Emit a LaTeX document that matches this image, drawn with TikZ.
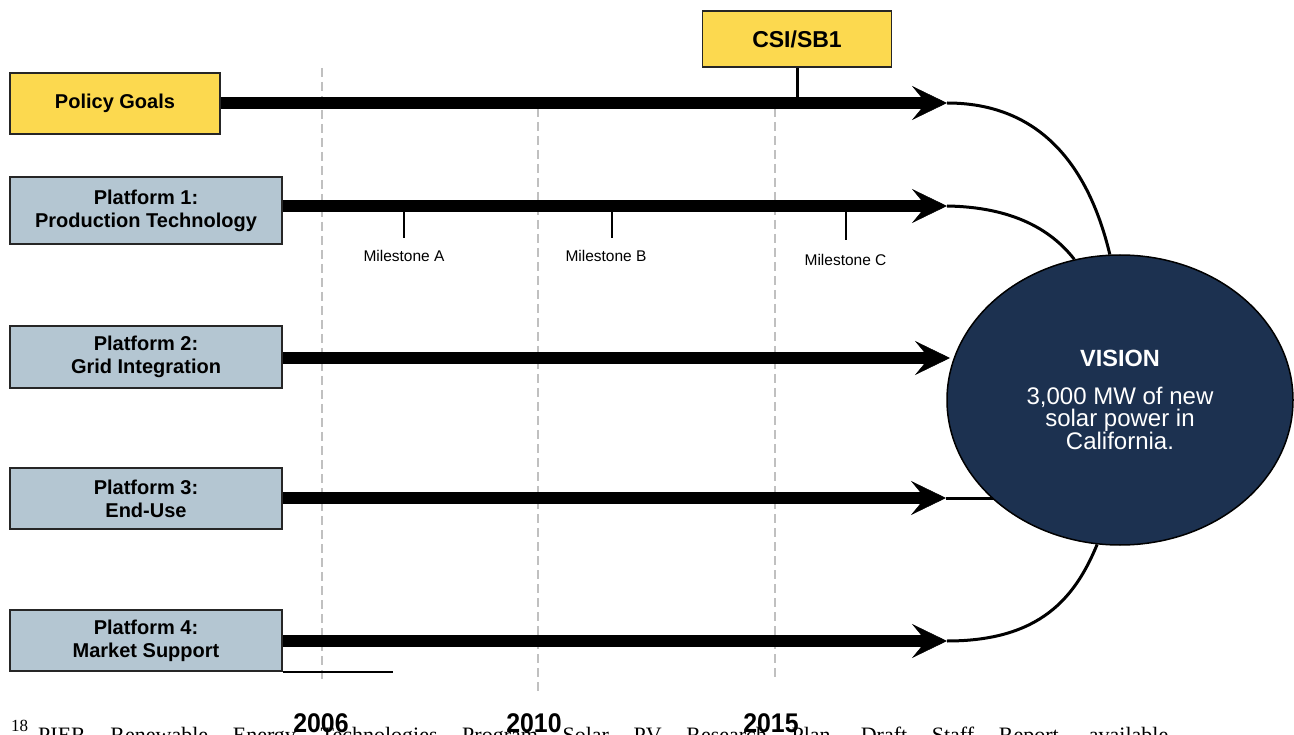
\documentclass[tikz,border=0pt]{standalone}
\usepackage{fontspec}
\setmainfont{Liberation Sans}
\newfontfamily\fnserif{Liberation Serif}
\newfontfamily\yearfont[FakeStretch=0.92]{Liberation Sans}
\usetikzlibrary{arrows.meta,shapes.geometric}
\definecolor{goldbox}{RGB}{252,217,79}
\definecolor{platbox}{RGB}{180,198,210}
\definecolor{navy}{RGB}{28,49,80}
\definecolor{dashgray}{RGB}{192,192,192}
\pgfdeclarelayer{back}
\pgfdeclarelayer{bg}
\pgfsetlayers{back,bg,main}
\begin{document}
\begin{tikzpicture}[x=1pt,y=-1pt,
  box/.style={draw=black!85, line width=1.8pt, inner sep=0pt, align=center, font=\bfseries\fontsize{20}{23}\selectfont},
  goldb/.style={box, fill=goldbox},
  platb/.style={box, fill=platbox, minimum width=272pt},
  bigarrow/.style={line width=12pt, -{Stealth[length=35pt,width=34pt,inset=14pt,line width=0.5pt]}},
  thinline/.style={line width=3pt},
  tickline/.style={line width=2pt},
  yearline/.style={dashgray, line width=2pt, dash pattern=on 9pt off 5pt},
  mslabel/.style={font=\fontsize{15.5}{18}\selectfont, inner sep=0pt},
  yearlabel/.style={font=\yearfont\bfseries\fontsize{27}{27}\selectfont, anchor=base, inner sep=0pt},
]
\useasboundingbox (0,0) rectangle (1294,735);

% boxes
\node[goldb, minimum width=210pt, minimum height=61pt] (policy) at (115,103.5) {Policy Goals};
\node[goldb, minimum width=189pt, minimum height=56pt, font=\bfseries\fontsize{23}{26}\selectfont] (csi) at (797,39) {CSI/SB1};
\node[platb, minimum height=67pt] (p1) at (146,210.5) {Platform 1:\\Production Technology};
\node[platb, minimum height=62pt] (p2) at (146,357) {Platform 2:\\Grid Integration};
\node[platb, minimum height=61pt] (p3) at (146,498.5) {Platform 3:\\End-Use};
\node[platb, minimum height=61pt] (p4) at (146,640.5) {Platform 4:\\Market Support};

% vision
\node[ellipse, draw=black, line width=1.5pt, fill=navy, text=white, minimum width=346pt, minimum height=290pt, inner sep=0pt, align=center, font=\fontsize{24}{22.5}\selectfont] (vision) at (1120,400)
  {{\bfseries\fontsize{23.5}{26}\selectfont VISION}\\[15pt]3,000 MW of new\\solar power in\\California.};

% arrow tips
\coordinate (t0) at (947,103);
\coordinate (t1) at (947,206);
\coordinate (t2) at (950,358);
\coordinate (t3) at (946,498);
\coordinate (t4) at (947,641);

% milestones
\coordinate (mA) at (404,206);
\coordinate (mB) at (612,206);
\coordinate (mC) at (846,206);
\node[mslabel] (labA) at (404,256) {Milestone A};
\node[mslabel] (labB) at (606,256) {Milestone B};
\node[mslabel] (labC) at (845.5,260) {Milestone C};

% years
\node[yearlabel] (y2006) at (321,732) {2006};
\node[yearlabel] (y2010) at (534,732) {2010};
\node[yearlabel] (y2015) at (771,732) {2015};

\begin{pgfonlayer}{back}
  \draw[yearline] (322,68) -- (322,680);
  \draw[yearline] (538,108) -- (538,692);
  \draw[yearline] (775,108) -- (775,680);
\end{pgfonlayer}

\begin{pgfonlayer}{bg}
  \draw[bigarrow] (t0 -| policy.east) -- (t0);
  \draw[bigarrow] (t1 -| p1.east) -- (t1);
  \draw[bigarrow] (t2 -| p2.east) -- (t2);
  \draw[bigarrow] (t3 -| p3.east) -- (t3);
  \draw[bigarrow] (t4 -| p4.east) -- (t4);
  \draw[thinline] (csi.south) -- (csi.south |- t0);
  \draw[tickline] (mA) -- ++(0,32);
  \draw[tickline] (mB) -- ++(0,32);
  \draw[tickline] (mC) -- ++(0,34);
  \draw[thinline] (t0) .. controls (1050,103) and (1092,180) .. (vision.94);
  \draw[thinline] (t1) .. controls (1010,207) and (1050,228) .. (vision.108);
  \draw[thinline] (t3) -- (vision.center |- t3);
  \draw[thinline] (t4) .. controls (1040,641) and (1075,598) .. (vision.261);
\end{pgfonlayer}

% footnote rule
\draw[line width=2pt] (p4.south east) -- ++(110,0);

% footnote (cut by the page edge as in the reference)
\begin{scope}
  \clip (0,700) rectangle (1294,735);
  \node[anchor=base west, inner sep=0pt, font=\fnserif\fontsize{22}{22}\selectfont] (fn) at (11,742)
    {\raisebox{10.5pt}{\fontsize{17}{17}\selectfont 18}\hspace{10pt}\hbox to 1130pt{PIER\hfil Renewable\hfil Energy\hfil Technologies\hfil Program\hfil Solar\hfil PV\hfil Research\hfil Plan,\hfil Draft\hfil Staff\hfil Report,\hfil available}};
\end{scope}
\end{tikzpicture}
\end{document}
